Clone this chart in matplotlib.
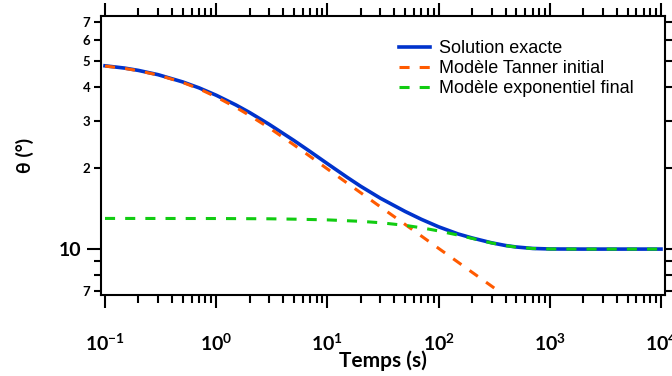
import matplotlib.pyplot as plt
from matplotlib.ticker import LogLocator, NullFormatter, FixedLocator, FixedFormatter

# Données (temps en s, angle en degrés)
t_exacte = [0.1, 0.15, 0.2, 0.3, 0.5, 0.7, 1, 1.5, 2, 3, 5, 7, 10, 15, 20, 30, 50, 70,
            100, 150, 200, 300, 400, 500, 700, 1000, 2000, 5000, 10000]
theta_exacte = [48.0, 47.07, 46.14, 44.49, 41.81, 39.75, 37.31, 34.35, 32.17, 29.07,
                25.33, 23.03, 20.77, 18.5, 17.1, 15.45, 13.8, 12.9, 12.1, 11.38, 11.0,
                10.55, 10.31, 10.18, 10.055, 10.01, 10.0, 10.0, 10.0]

t_tanner = [0.1, 0.15, 0.2, 0.3, 0.5, 0.7, 1, 1.5, 2, 3, 5, 7, 10, 15, 20, 30, 50, 70,
            100, 150, 200, 300, 320]
theta_tanner = [47.9, 46.94, 46.0, 44.36, 41.62, 39.43, 36.79, 33.65, 31.36, 28.22,
                24.4, 22.09, 19.85, 17.61, 16.18, 14.35, 12.35, 11.18, 10.06, 8.93,
                8.2, 7.28, 7.14]

t_expo = [0.1, 1, 3, 5, 10, 20, 30, 50, 70, 100, 150, 200, 250, 300, 400, 500, 700,
          1000, 2000, 10000]
theta_expo = [13.0, 12.99, 12.96, 12.92, 12.84, 12.68, 12.53, 12.25, 12.0, 11.68,
              11.27, 10.96, 10.72, 10.54, 10.3, 10.17, 10.05, 10.01, 10.0, 10.0]

x_major = [0.1, 1, 10, 100, 1000, 10000]
x_labels = [r'$10^{-1}$', r'$10^{0}$', r'$10^{1}$', r'$10^{2}$', r'$10^{3}$', r'$10^{4}$']
y_major = [10]
y_major_labels = ['10']
y_minor = [7, 8, 9, 20, 30, 40, 50, 60, 70]
y_minor_labels = ['7', '', '', '2', '3', '4', '5', '6', '7']

plt.rcParams['mathtext.fontset'] = 'custom'
plt.rcParams['mathtext.rm'] = 'Lato:bold'
plt.rcParams['mathtext.it'] = 'Lato:bold'
plt.rcParams['mathtext.bf'] = 'Lato:bold'

fig = plt.figure(figsize=(6.72, 3.76), dpi=100)
ax = fig.add_axes([0.1503, 0.2154, 0.8393, 0.742])

ax.plot(t_exacte, theta_exacte, color='#0033cc', lw=2.6, label='Solution exacte')
ax.plot(t_tanner, theta_tanner, color='#ff5a00', lw=2.2, dashes=(3.3, 3.3),
        label='Modèle Tanner initial')
ax.plot(t_expo, theta_expo, color='#11cc11', lw=2.2, dashes=(3.3, 3.3),
        label='Modèle exponentiel final')

ax.set_xscale('log')
ax.set_yscale('log')
ax.set_xlim(10 ** -1.036, 10 ** 4.036)
ax.set_ylim(6.75, 73.5)

# axe x : décades + graduations secondaires
ax.xaxis.set_major_locator(FixedLocator(x_major))
ax.xaxis.set_major_formatter(FixedFormatter(x_labels))
ax.xaxis.set_minor_locator(LogLocator(base=10, subs=range(2, 10)))
ax.xaxis.set_minor_formatter(NullFormatter())

# axe y : seul 10 en grand, les autres en petit
ax.yaxis.set_major_locator(FixedLocator(y_major))
ax.yaxis.set_major_formatter(FixedFormatter(y_major_labels))
ax.yaxis.set_minor_locator(FixedLocator(y_minor))
ax.yaxis.set_minor_formatter(FixedFormatter(y_minor_labels))

for s in ax.spines.values():
    s.set_linewidth(1.5)

ax.tick_params(which='both', direction='out', top=True, right=True, width=1.5)
ax.tick_params(axis='x', which='major', length=9.5, pad=18, labelsize=14)
ax.tick_params(axis='x', which='minor', length=5.5)
ax.tick_params(axis='y', which='major', length=10, pad=4, labelsize=14)
ax.tick_params(axis='y', which='minor', length=5, pad=2.5, labelsize=9.5)

for lab in ax.get_yticklabels(which='both'):
    lab.set_family(['Lato', 'DejaVu Sans'])
    lab.set_fontweight('bold')

ax.set_xlabel('Temps (s)', family=['Lato', 'DejaVu Sans'], fontweight='bold', fontsize=15)
ax.set_ylabel('θ (°)', family=['Lato', 'DejaVu Sans'], fontweight='bold', fontsize=14)
ax.xaxis.set_label_coords(0.5, -0.2)
ax.yaxis.set_label_coords(-0.118, 0.5)

leg = ax.legend(loc='upper left', bbox_to_anchor=(0.528, 0.914), frameon=False,
                prop={'family': 'Liberation Sans', 'size': 13},
                handlelength=1.75, handletextpad=0.45, labelspacing=0.17,
                borderpad=0, borderaxespad=0)

fig.savefig('out.png', dpi=100)
